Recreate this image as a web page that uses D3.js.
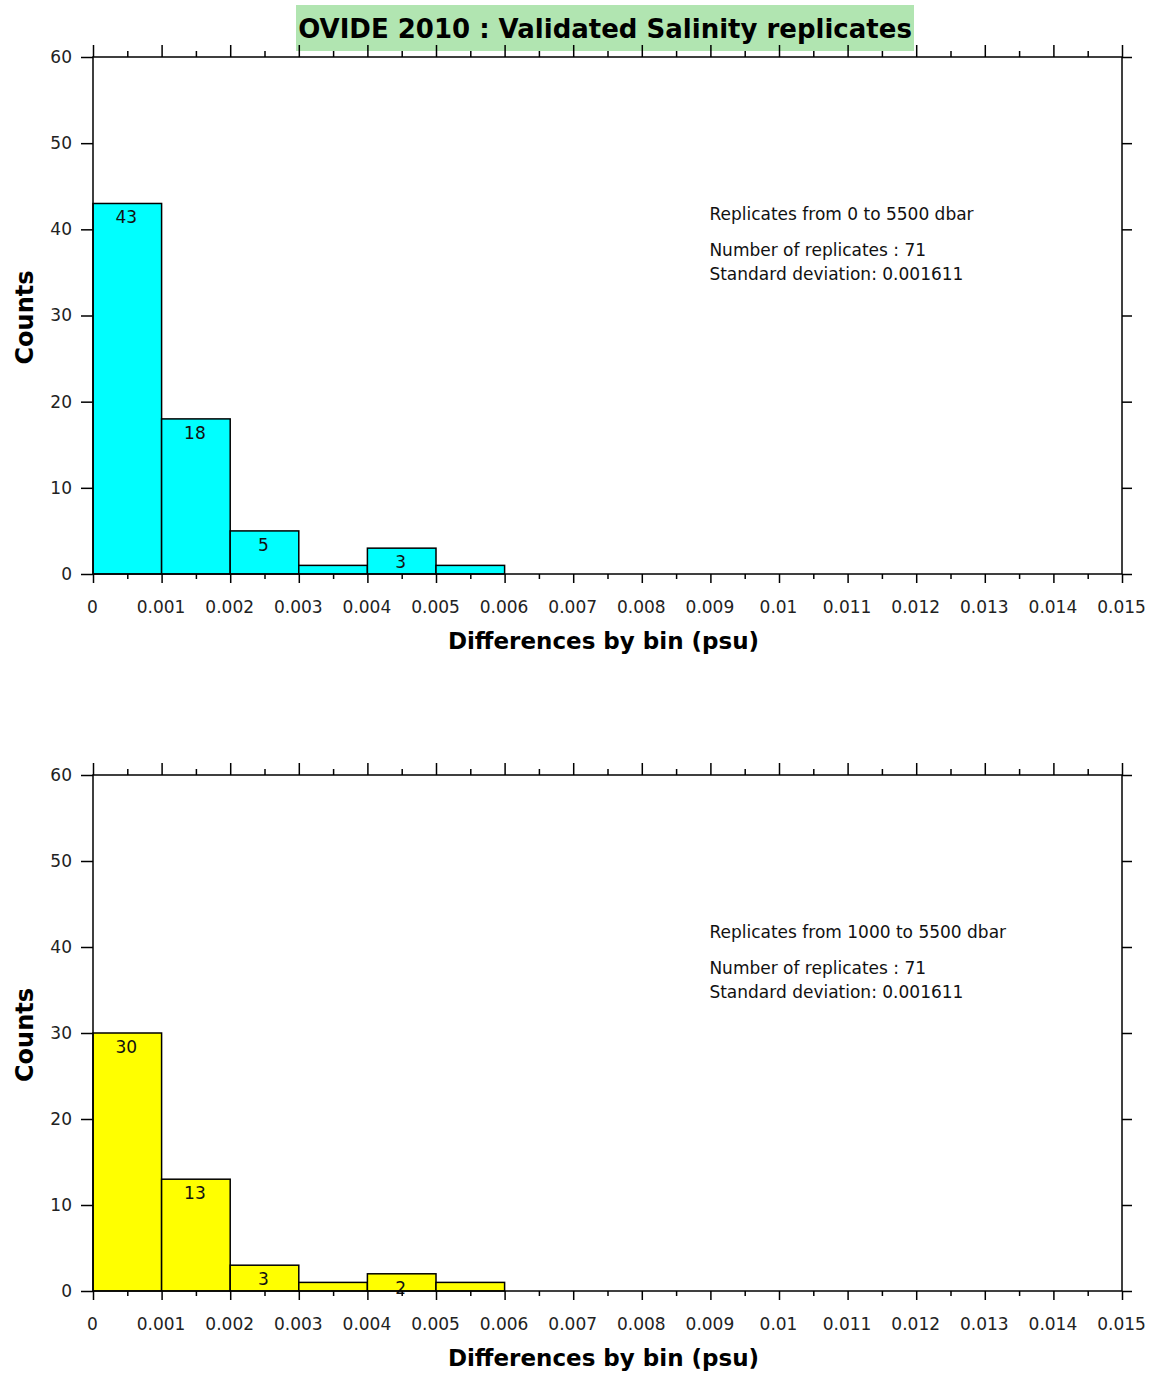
<!DOCTYPE html>
<html>
<head>
<meta charset="utf-8">
<script src="https://cdn.jsdelivr.net/npm/d3@7"></script>
<style>
  body { margin: 0; background: #fff; }
  svg { display: block; }
  .tick text { font-family: "DejaVu Sans", sans-serif; font-size: 17px; fill: #222; }
</style>
</head>
<body>
<svg id="chart" width="1159" height="1374"></svg>
<script>
'use strict';

// bins of absolute differences between replicates (psu)
const binStarts = [0, 0.001, 0.002, 0.003, 0.004, 0.005];
const binWidth = 0.001;
const countsAll = [43, 18, 5, 1, 3, 1];    // 0 to 5500 dbar
const countsDeep = [30, 13, 3, 1, 2, 1];   // 1000 to 5500 dbar

const xMajorTicks = [0, 0.001, 0.002, 0.003, 0.004, 0.005, 0.006, 0.007,
  0.008, 0.009, 0.01, 0.011, 0.012, 0.013, 0.014, 0.015];
const xMinorTicks = [0.0005, 0.0015, 0.0025, 0.0035, 0.0045, 0.0055, 0.0065,
  0.0075, 0.0085, 0.0095, 0.0105, 0.0115, 0.0125, 0.0135, 0.0145];
const yTicks = [0, 10, 20, 30, 40, 50, 60];

const title = 'OVIDE 2010 : Validated Salinity replicates';
const xTitle = 'Differences by bin (psu)';
const yTitle = 'Counts';
const notesAll = ['Replicates from 0 to 5500 dbar', 'Number of replicates : 71', 'Standard deviation: 0.001611'];
const notesDeep = ['Replicates from 1000 to 5500 dbar', 'Number of replicates : 71', 'Standard deviation: 0.001611'];

const svg = d3.select('#chart');

// title with its green box
svg.append('rect')
  .attr('x', 296).attr('y', 5).attr('width', 618).attr('height', 46)
  .style('fill', '#b1e5b1');
svg.append('text')
  .attr('x', 605).attr('y', 38)
  .attr('text-anchor', 'middle')
  .style('font-family', '"DejaVu Sans", sans-serif')
  .style('font-weight', 'bold')
  .style('font-size', '26px')
  .text(title);

const drawPanel = function (top, bottom, counts, color, notes) {
  const left = 93, right = 1122;
  const x = d3.scaleLinear().domain([0, 0.015]).range([left, right]);
  const y = d3.scaleLinear().domain([0, 60]).range([bottom, top]);
  const g = svg.append('g');

  // bars
  g.selectAll('rect.bar')
    .data(binStarts)
    .join('rect')
    .attr('class', 'bar')
    .attr('x', d => x(d))
    .attr('y', (d, i) => y(counts[i]))
    .attr('width', d => x(d + binWidth) - x(d))
    .attr('height', (d, i) => y(0) - y(counts[i]))
    .style('fill', color)
    .style('stroke', '#000')
    .style('stroke-width', 1.5);

  // counts written in the bars (only above 1)
  g.selectAll('text.count')
    .data(binStarts.filter((d, i) => counts[i] > 1))
    .join('text')
    .attr('class', 'count')
    .attr('x', d => x(d + binWidth / 2) - 1)
    .attr('y', d => y(counts[binStarts.indexOf(d)]) + 20)
    .attr('text-anchor', 'middle')
    .style('font-family', '"DejaVu Sans", sans-serif')
    .style('font-size', '17px')
    .style('fill', '#111')
    .text(d => counts[binStarts.indexOf(d)]);

  // frame
  g.append('rect')
    .attr('x', left).attr('y', top)
    .attr('width', right - left).attr('height', bottom - top)
    .style('fill', 'none').style('stroke', '#000').style('stroke-width', 1.5);

  // bottom axis: labelled major ticks + minor ticks
  const bx = g.append('g').attr('transform', `translate(0,${bottom})`)
    .call(d3.axisBottom(x).tickValues(xMajorTicks).tickSize(9)
      .tickFormat(d => String(+d.toFixed(3))));
  bx.selectAll('.tick text').attr('y', 27).attr('x', -1);
  g.append('g').attr('transform', `translate(0,${bottom})`)
    .call(d3.axisBottom(x).tickValues(xMinorTicks).tickSize(5).tickFormat(''));

  // top axis: ticks pointing up
  g.append('g').attr('transform', `translate(0,${top})`)
    .call(d3.axisTop(x).tickValues(xMajorTicks).tickSize(12).tickFormat(''));
  g.append('g').attr('transform', `translate(0,${top})`)
    .call(d3.axisTop(x).tickValues(xMinorTicks).tickSize(6).tickFormat(''));

  // left and right axes
  const ly = g.append('g').attr('transform', `translate(${left},0)`)
    .call(d3.axisLeft(y).tickValues(yTicks).tickSize(12));
  ly.selectAll('.tick text').attr('x', -21);
  g.append('g').attr('transform', `translate(${right},0)`)
    .call(d3.axisRight(y).tickValues(yTicks).tickSize(10).tickFormat(''));

  g.selectAll('.domain').remove();
  g.selectAll('.tick line').style('stroke', '#000').style('stroke-width', 1.5);

  // axis titles
  g.append('text')
    .attr('x', (left + right) / 2 - 4).attr('y', bottom + 75)
    .attr('text-anchor', 'middle')
    .style('font-family', '"DejaVu Sans", sans-serif')
    .style('font-weight', 'bold').style('font-size', '23px')
    .text(xTitle);
  g.append('text')
    .attr('transform', `translate(33,${(top + bottom) / 2 + 2}) rotate(-90)`)
    .attr('text-anchor', 'middle')
    .style('font-family', '"DejaVu Sans", sans-serif')
    .style('font-weight', 'bold').style('font-size', '24px')
    .text(yTitle);

  // statistics note
  const offsets = [163, 199, 223];
  g.selectAll('text.note')
    .data(notes)
    .join('text')
    .attr('class', 'note')
    .attr('x', x(0.009) - 1)
    .attr('y', (d, i) => top + offsets[i])
    .style('font-family', '"DejaVu Sans", sans-serif')
    .style('font-size', '17px')
    .style('fill', '#111')
    .text(d => d);
};

drawPanel(57, 574, countsAll, '#00ffff', notesAll);
drawPanel(775, 1291, countsDeep, '#ffff00', notesDeep);
</script>
</body>
</html>
